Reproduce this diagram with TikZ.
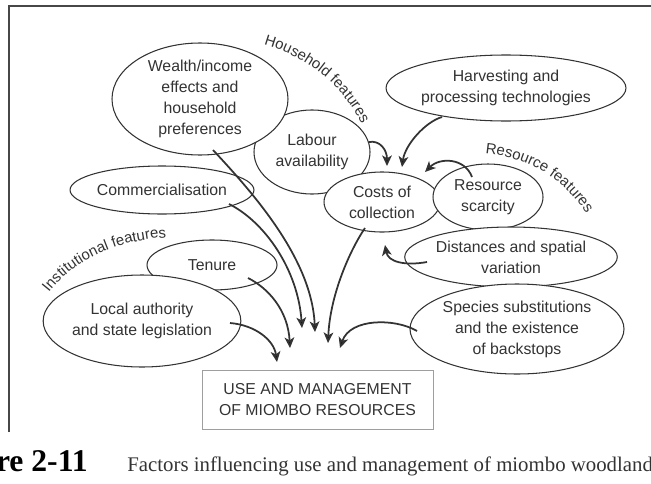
\documentclass[tikz,border=0pt]{standalone}
\usepackage{fontspec}
\setmainfont{Liberation Sans}
\newfontfamily\capfont{Liberation Serif}
\usetikzlibrary{shapes.geometric,arrows.meta,decorations.text}

\definecolor{ink}{gray}{0.2}
\definecolor{rim}{gray}{0.62}

\begin{document}
\begin{tikzpicture}[x=0.02cm, y=-0.02cm,
    blob/.style n args={2}{ellipse, draw=ink, line width=0.6pt, fill=white,
        inner sep=0pt, outer sep=0pt, minimum width=#1*0.02cm,
        minimum height=#2*0.02cm, align=center, text=ink,
        font=\fontsize{9}{12}\selectfont},
    flow/.style={draw=ink, line width=1pt,
        -{Stealth[length=6pt, width=5.5pt, inset=1.6pt]}},
    bend/.style={decorate, decoration={text along path, text align=center,
        text color=ink, text={|\fontsize{8.5}{10}\selectfont|#1}}}]

    \useasboundingbox (0,0) rectangle (651,483);
    \clip (0,0) rectangle (651,483);

    % frame
    \draw[black!72, line width=1.2pt] (9,432) -- (9,6) -- (660,6);

    % factors
    \node[blob={116}{84}] (labour) at (312,152) {Labour\\availability};
    \node[blob={176}{112}] (wealth) at (200,99)
        {Wealth/income\\effects and\\household\\preferences};
    \node[blob={162}{48}] (commerce) at (162,190) {Commercialisation};
    \node[blob={222}{66}] (harvest) at (506,88)
        {Harvesting and\\processing technologies};
    \node[blob={116}{60}] (costs) at (382,202) {Costs of\\collection};
    \node[blob={110}{66}] (scarcity) at (488,197) {Resource\\scarcity};
    \node[blob={192}{60}] (distance) at (511,257)
        {Distances and spatial\\variation};
    \node[blob={214}{90}] (species) at (517,329)
        {Species substitutions\\and the existence\\of backstops};
    \node[blob={130}{50}] (tenure) at (212,265) {Tenure};
    \node[blob={194}{92}] (local) at (142,321)
        {Local authority\\and state legislation};

    \node[draw=rim, line width=0.5pt, inner sep=0pt, minimum width=231*0.02cm,
        minimum height=59*0.02cm, align=center, text=ink,
        font=\fontsize{9}{12}\selectfont] (use) at (317.5,399.5)
        {USE AND MANAGEMENT\\OF MIOMBO RESOURCES};

    % group labels
    \path[bend={Household features}] (254,42) .. controls (304,53) and (345,85) .. (366,133);
    \path[bend={Resource features}] (478,153) .. controls (525,155) and (565,177) .. (590,220);
    \path[bend={Institutional features}] (42,302) .. controls (68,262) and (115,238) .. (178,237);

    % arrow tips
    \coordinate (tipC) at (302,328);
    \coordinate (tipW) at (315,332);
    \coordinate (tipT) at (290,348);
    \coordinate (tipL) at (277,362);
    \coordinate (tipK) at (328,343);
    \coordinate (tipS) at (340,348);
    \coordinate (tipD) at (385,245);
    \coordinate (tipR) at (425,172);
    \coordinate (tipB) at (387,166);
    \coordinate (tipH) at (402,167);

    \draw[flow] ([shift={(67,14)}]commerce.center) .. controls (265,222) and (298,270) .. (tipC);
    \draw[flow] ([shift={(13,51)}]wealth.center) .. controls (255,195) and (312,260) .. (tipW);
    \draw[flow] ([shift={(36,13)}]tenure.center) .. controls (268,288) and (288,310) .. (tipT);
    \draw[flow] ([shift={(88,2)}]local.center) .. controls (255,325) and (274,340) .. (tipL);
    \draw[flow] ([shift={(-17,26)}]costs.center) .. controls (350,250) and (330,295) .. (tipK);
    \draw[flow] ([shift={(-100,2)}]species.center) .. controls (395,318) and (350,318) .. (tipS);
    \draw[flow] ([shift={(-84,5)}]distance.center) .. controls (405,266) and (388,262) .. (tipD);
    \draw[flow] ([shift={(-16,-20)}]scarcity.center) .. controls (465,158) and (440,157) .. (tipR);
    \draw[flow] ([shift={(57,-10)}]labour.center) .. controls (380,140) and (387,150) .. (tipB);
    \draw[flow] ([shift={(-64,29)}]harvest.center) .. controls (425,122) and (405,145) .. (tipH);

    % caption
    \node[anchor=base east, inner sep=0pt, text=black,
        font=\capfont\fontsize{18}{20}\selectfont\bfseries] (fig) at (88,471) {Figure 2-11};
    \node[anchor=base west, inner sep=0pt, text=ink,
        font=\capfont\fontsize{11.85}{14}\selectfont] (title) at (127,471)
        {Factors influencing use and management of miombo woodland};

\end{tikzpicture}
\end{document}
